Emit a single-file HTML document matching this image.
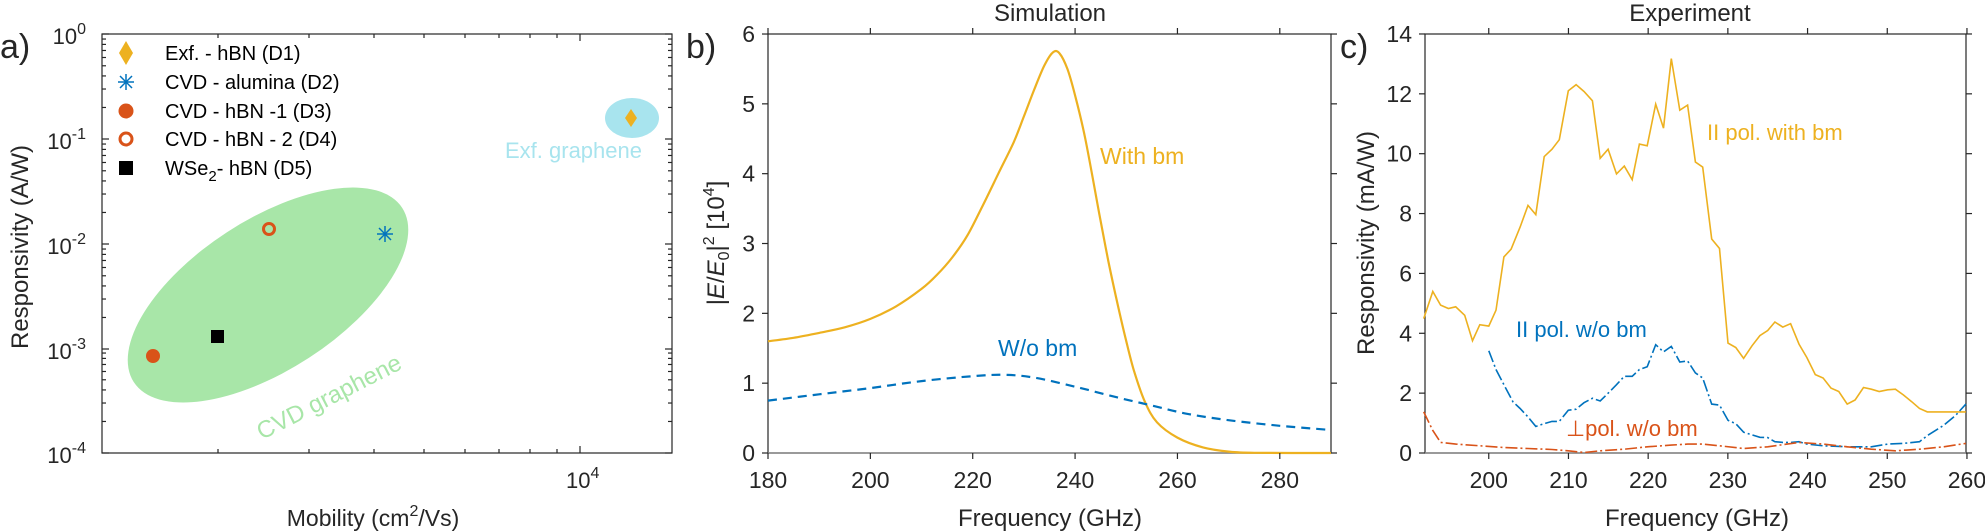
<!DOCTYPE html>
<html><head><meta charset="utf-8"><style>
html,body{margin:0;padding:0;background:#fff;}
svg{display:block;font-family:"Liberation Sans",Arial,sans-serif;}
</style></head><body>
<svg id="s" width="1985" height="532" viewBox="0 0 1985 532" xmlns="http://www.w3.org/2000/svg">
<!-- Panel a -->
<ellipse cx="268" cy="295" rx="160" ry="75" transform="rotate(-33 268 295)" fill="#a8e6a8"/>
<ellipse cx="632" cy="118" rx="27" ry="20" fill="#a8e4ee"/>
<text x="329" y="405" font-size="24" fill="#a8e6a8" text-anchor="middle" transform="rotate(-27 329 397)">CVD graphene</text>
<text x="505" y="158" font-size="22" fill="#a8e4ee">Exf. graphene</text>
<rect x="102" y="34" width="570" height="419" fill="none" stroke="#262626" stroke-width="1.2"/>
<g font-size="22" fill="#262626" text-anchor="end">
<text x="86" y="44">10<tspan font-size="16" dy="-10">0</tspan></text>
<text x="86" y="149">10<tspan font-size="16" dy="-10">-1</tspan></text>
<text x="86" y="254">10<tspan font-size="16" dy="-10">-2</tspan></text>
<text x="86" y="359">10<tspan font-size="16" dy="-10">-3</tspan></text>
<text x="86" y="463">10<tspan font-size="16" dy="-10">-4</tspan></text>
</g>
<text x="566" y="488" font-size="22" fill="#262626">10<tspan font-size="16" dy="-10">4</tspan></text>
<text x="373" y="526" font-size="23" fill="#262626" text-anchor="middle">Mobility (cm<tspan font-size="16" dy="-10">2</tspan><tspan dy="10">/Vs)</tspan></text>
<text transform="translate(28,247) rotate(-90)" font-size="24" fill="#262626" text-anchor="middle">Responsivity (A/W)</text>
<text x="0" y="58" font-size="34" fill="#262626">a)</text>
<!-- legend -->
<polygon points="126,41 133,53 126,65 119,53" fill="#edb120"/>
<g stroke="#0072bd" stroke-width="1.5"><line x1="118" y1="82" x2="134" y2="82"/><line x1="126" y1="74" x2="126" y2="90"/><line x1="120" y1="76" x2="132" y2="88"/><line x1="132" y1="76" x2="120" y2="88"/></g>
<circle cx="126" cy="111" r="7.5" fill="#d95319"/>
<circle cx="126" cy="139" r="6" fill="none" stroke="#d95319" stroke-width="3"/>
<rect x="119" y="161" width="14" height="14" fill="#000"/>
<g font-size="20" fill="#000">
<text x="165" y="60">Exf. - hBN (D1)</text>
<text x="165" y="89">CVD - alumina (D2)</text>
<text x="165" y="118">CVD - hBN -1 (D3)</text>
<text x="165" y="146">CVD - hBN - 2 (D4)</text>
<text x="165" y="175">WSe<tspan font-size="15" dy="6">2</tspan><tspan dy="-6">- hBN (D5)</tspan></text>
</g>
<!-- data a -->
<circle cx="153" cy="356" r="7" fill="#d95319"/>
<rect x="211" y="330" width="13" height="13" fill="#000"/>
<circle cx="269" cy="229" r="5.5" fill="none" stroke="#d95319" stroke-width="3"/>
<g stroke="#0072bd" stroke-width="1.5"><line x1="377" y1="234" x2="393" y2="234"/><line x1="385" y1="226" x2="385" y2="242"/><line x1="379" y1="228" x2="391" y2="240"/><line x1="391" y1="228" x2="379" y2="240"/></g>
<polygon points="631,109 637,118 631,127 625,118" fill="#edb120"/>

<!-- Panel b -->
<rect x="768" y="34" width="563" height="419" fill="none" stroke="#262626" stroke-width="1.2"/>
<line x1="768" y1="453" x2="1331" y2="453" stroke="#888" stroke-width="1.5"/>
<g font-size="23" fill="#262626" text-anchor="end" id="bty"></g>
<g font-size="23" fill="#262626" text-anchor="middle" id="btx"></g>
<text x="1050" y="526" font-size="24" fill="#262626" text-anchor="middle">Frequency (GHz)</text>
<text x="1050" y="21" font-size="24" fill="#262626" text-anchor="middle">Simulation</text>
<text x="686" y="58" font-size="34" fill="#262626">b)</text>
<text transform="translate(724,243) rotate(-90)" font-size="24" fill="#262626" text-anchor="middle">|<tspan font-style="italic">E</tspan>/<tspan font-style="italic">E</tspan><tspan font-size="16" dy="5">0</tspan><tspan dy="-5">|</tspan><tspan font-size="16" dy="-10">2</tspan><tspan dy="10"> [10</tspan><tspan font-size="16" dy="-10">4</tspan><tspan dy="10">]</tspan></text>
<text x="1100" y="164" font-size="23" fill="#edb120">With bm</text>
<text x="998" y="356" font-size="23" fill="#0072bd">W/o bm</text>
<path id="bo" fill="none" stroke="#edb120" stroke-width="2.2"/>
<path id="bb" fill="none" stroke="#0072bd" stroke-width="2.2" stroke-dasharray="9,6"/>

<!-- Panel c -->
<rect x="1425" y="34" width="541" height="419" fill="none" stroke="#262626" stroke-width="1.2"/>
<line x1="1425" y1="453" x2="1966" y2="453" stroke="#888" stroke-width="1.5"/>
<g font-size="23" fill="#262626" text-anchor="end" id="cty"></g>
<g font-size="23" fill="#262626" text-anchor="middle" id="ctx"></g>
<text x="1697" y="526" font-size="24" fill="#262626" text-anchor="middle">Frequency (GHz)</text>
<text x="1690" y="21" font-size="24" fill="#262626" text-anchor="middle">Experiment</text>
<text x="1340" y="58" font-size="34" fill="#262626">c)</text>
<text transform="translate(1374,243) rotate(-90)" font-size="24" fill="#262626" text-anchor="middle">Responsivity (mA/W)</text>
<text x="1707" y="140" font-size="22" fill="#edb120">II pol. with bm</text>
<text x="1516" y="337" font-size="22" fill="#0072bd">II pol. w/o bm</text>
<text x="1566" y="436" font-size="22" fill="#d95319">⊥pol. w/o bm</text>
<path id="co" fill="none" stroke="#edb120" stroke-width="1.6"/>
<path id="cb" fill="none" stroke="#0072bd" stroke-width="1.6" stroke-dasharray="12,3,2,3"/>
<path id="cr" fill="none" stroke="#d95319" stroke-width="1.6" stroke-dasharray="12,3,2,3"/>
<g id="ticks" stroke="#262626" stroke-width="1.2"></g>
</svg>
<script>
var NS="http://www.w3.org/2000/svg";
function el(p,t,a,txt){var e=document.createElementNS(NS,t);for(var k in a)e.setAttribute(k,a[k]);if(txt!==undefined)e.textContent=txt;document.getElementById(p).appendChild(e);return e;}
function tick(x1,y1,x2,y2){el("ticks","line",{x1:x1,y1:y1,x2:x2,y2:y2});}
// panel a ticks (inward)
var dec=[34,139,244,349,453];
for(var i=0;i<5;i++){tick(102,dec[i],109,dec[i]);tick(665,dec[i],672,dec[i]);
 if(i<4){for(var k=2;k<10;k++){var y=dec[i+1]-Math.log10(k)*104.75;tick(102,y,106,y);tick(668,y,672,y);}}}
[218,309,374,424,465,499,530,557].forEach(function(x){tick(x,34,x,38);tick(x,453,x,449);});
tick(580,34,580,41);tick(580,453,580,446);
// panel b
function bx(f){return 768+(f-180)*5.118;} function by(v){return 453-v*69.83;}
for(var v=0;v<=6;v++){var y=by(v);tick(762,y,768,y);tick(1331,y,1337,y);el("bty","text",{x:755,y:y+8},String(v));}
for(var f=180;f<=280;f+=20){var x=bx(f);tick(x,453,x,459);tick(x,34,x,28);el("btx","text",{x:x,y:488},String(f));}
var O=[[180,1.6],[185,1.65],[190,1.72],[195,1.8],[200,1.92],[205,2.1],[210,2.35],[213,2.55],[216,2.8],[219,3.12],[222,3.55],[225,4.0],[228,4.45],[230,4.82],[232,5.2],[234,5.55],[235.7,5.74],[237,5.72],[238.5,5.5],[240,5.12],[242,4.5],[244.8,3.4],[246.5,2.75],[248.4,2.1],[250,1.6],[251.5,1.18],[253.6,0.74],[256,0.44],[260,0.22],[265,0.08],[270,0.02],[275,0.003],[290,0]];
var B=[[180,.75],[190,.84],[200,.93],[210,1.03],[220,1.1],[226,1.12],[232,1.08],[240,.95],[248,.8],[255,.68],[262,.56],[270,.47],[280,.39],[290,.33]];
function path(a,fx,fy){return "M"+a.map(function(p){return fx(p[0]).toFixed(1)+","+fy(p[1]).toFixed(1);}).join(" L");}
function smooth(a,fx,fy){var P=a.map(function(p){return [fx(p[0]),fy(p[1])];});var d="M"+P[0][0].toFixed(1)+","+P[0][1].toFixed(1);
 for(var i=0;i<P.length-1;i++){var p0=P[Math.max(0,i-1)],p1=P[i],p2=P[i+1],p3=P[Math.min(P.length-1,i+2)];
 var c1=[p1[0]+(p2[0]-p0[0])/6,p1[1]+(p2[1]-p0[1])/6],c2=[p2[0]-(p3[0]-p1[0])/6,p2[1]-(p3[1]-p1[1])/6];
 d+=" C"+c1[0].toFixed(1)+","+c1[1].toFixed(1)+" "+c2[0].toFixed(1)+","+c2[1].toFixed(1)+" "+p2[0].toFixed(1)+","+p2[1].toFixed(1);}return d;}
document.getElementById("bo").setAttribute("d",smooth(O,bx,by));
document.getElementById("bb").setAttribute("d",smooth(B,bx,by));
// panel c
function cx(f){return 1425+(f-192)*7.97;} function cy(v){return 453-v*29.93;}
for(var v=0;v<=14;v+=2){var y=cy(v);tick(1419,y,1425,y);tick(1966,y,1972,y);el("cty","text",{x:1412,y:y+8},String(v));}
for(var f=200;f<=260;f+=10){var x=cx(f);tick(x,453,x,459);tick(x,34,x,28);el("ctx","text",{x:x,y:488},String(f));}
function zx(z){return 1040+z/1.66;} function zy(z){return z/2.95;}
var CO=[[637,940],[652,860],[665,900],[678,910],[690,905],[705,930],[718,1005],[730,958],[745,962],[757,915],[770,758],[782,735],[797,670],[810,606],[823,633],[837,462],[850,440],[862,412],[877,268],[890,250],[903,270],[917,297],[930,467],[943,440],[957,513],[970,490],[983,530],[995,425],[1008,430],[1022,307],[1035,378],[1048,173],[1062,325],[1075,310],[1088,478],[1100,493],[1115,705],[1128,733],[1142,1012],[1155,1025],[1168,1057],[1182,1020],[1195,990],[1208,975],[1220,950],[1233,965],[1246,955],[1260,1015],[1273,1055],[1287,1105],[1300,1115],[1313,1145],[1326,1155],[1340,1192],[1353,1180],[1367,1143],[1380,1148],[1393,1155],[1407,1150],[1420,1148],[1433,1165],[1447,1185],[1460,1205],[1473,1215],[1500,1215],[1537,1215]];
var CB=[[745,1035],[757,1090],[770,1135],[785,1185],[797,1205],[810,1230],[823,1258],[837,1250],[850,1243],[862,1243],[877,1210],[890,1207],[903,1188],[917,1175],[930,1183],[943,1160],[957,1135],[970,1110],[983,1110],[995,1090],[1008,1082],[1022,1017],[1035,1038],[1048,1022],[1062,1068],[1075,1065],[1088,1100],[1100,1115],[1115,1192],[1128,1195],[1142,1240],[1155,1250],[1168,1275],[1182,1283],[1195,1290],[1208,1291],[1220,1303],[1233,1305],[1246,1305],[1260,1303],[1273,1310],[1300,1315],[1340,1318],[1380,1318],[1407,1310],[1433,1308],[1460,1303],[1473,1285],[1500,1255],[1520,1225],[1537,1192]];
var CR=[[637,1215],[652,1270],[665,1305],[690,1310],[730,1315],[770,1320],[810,1323],[850,1326],[877,1330],[903,1335],[930,1330],[970,1325],[1008,1318],[1048,1313],[1075,1310],[1100,1310],[1128,1315],[1168,1323],[1208,1318],[1260,1305],[1300,1310],[1340,1318],[1380,1325],[1420,1330],[1460,1325],[1500,1318],[1537,1308]];
document.getElementById("co").setAttribute("d",path(CO,zx,zy));
document.getElementById("cb").setAttribute("d",path(CB,zx,zy));
document.getElementById("cr").setAttribute("d",path(CR,zx,zy));
</script>
</body></html>
